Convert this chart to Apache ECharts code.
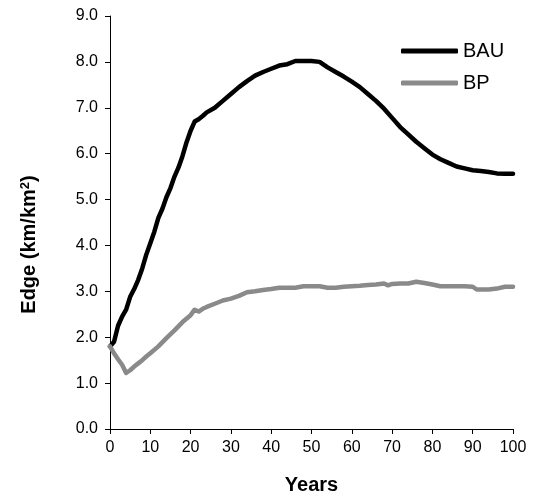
<!DOCTYPE html>
<html>
<head>
<meta charset="utf-8">
<script src="https://cdn.jsdelivr.net/npm/echarts@6/dist/echarts.min.js"></script>
<style>
  html, body { margin: 0; padding: 0; background: #fff; }
  #chart { width: 534px; height: 497px; }
</style>
</head>
<body>
<div id="chart"></div>
<script>
// values
const bauYears = [0, 1, 2, 3, 4, 5, 6, 7, 8, 9, 10, 11, 12, 13, 14, 15, 16, 17, 18, 19, 20, 21, 22, 23, 24, 26, 28, 30, 32, 34, 36, 38, 40, 42, 44, 46, 48, 50, 52, 54, 56, 58, 60, 62, 64, 66, 68, 70, 72, 74, 76, 78, 80, 82, 84, 86, 88, 90, 92, 94, 96, 98, 100];
const bauEdge = [1.80, 1.90, 2.25, 2.45, 2.60, 2.88, 3.05, 3.25, 3.50, 3.80, 4.05, 4.30, 4.60, 4.80, 5.05, 5.25, 5.50, 5.70, 5.95, 6.25, 6.50, 6.70, 6.75, 6.82, 6.90, 7.00, 7.15, 7.30, 7.45, 7.58, 7.70, 7.78, 7.85, 7.92, 7.95, 8.02, 8.02, 8.02, 8.00, 7.88, 7.78, 7.68, 7.57, 7.45, 7.30, 7.15, 6.98, 6.78, 6.58, 6.42, 6.26, 6.12, 5.98, 5.88, 5.80, 5.72, 5.68, 5.64, 5.62, 5.60, 5.57, 5.56, 5.56];

const bpYears = [0, 1, 2, 3, 4, 5, 6, 7, 8, 9, 10, 12, 14, 16, 18, 20, 21, 22, 23, 24, 26, 28, 30, 32, 34, 36, 38, 40, 42, 44, 46, 48, 50, 52, 54, 56, 58, 60, 62, 64, 66, 68, 69, 70, 72, 74, 76, 78, 80, 82, 84, 86, 88, 90, 91, 94, 96, 98, 100];
const bpEdge = [1.80, 1.65, 1.52, 1.40, 1.22, 1.28, 1.36, 1.43, 1.50, 1.58, 1.65, 1.80, 1.98, 2.15, 2.33, 2.48, 2.60, 2.56, 2.62, 2.66, 2.73, 2.80, 2.84, 2.90, 2.98, 3.00, 3.03, 3.05, 3.08, 3.08, 3.08, 3.11, 3.11, 3.11, 3.08, 3.08, 3.10, 3.11, 3.12, 3.14, 3.15, 3.17, 3.13, 3.16, 3.17, 3.17, 3.21, 3.18, 3.15, 3.11, 3.11, 3.11, 3.11, 3.10, 3.04, 3.04, 3.06, 3.10, 3.10];

const seriesNames = ['BAU', 'BP'];
const xTicks = [0, 10, 20, 30, 40, 50, 60, 70, 80, 90, 100];

function pairs(xs, ys) {
  return xs.map(function (x, i) { return [x, ys[i]]; });
}

const chart = echarts.init(document.getElementById('chart'));
const font = 'Liberation Sans, Arial, sans-serif';

const option = {
  backgroundColor: '#fff',
  animation: false,
  grid: { left: 110, right: 21, top: 16, bottom: 68, outerBoundsMode: 'none' },
  legend: {
    data: seriesNames,
    orient: 'vertical',
    left: 396,
    top: 36,
    itemWidth: 57,
    itemHeight: 5,
    itemGap: 12,
    icon: 'roundRect',
    textStyle: { fontFamily: font, fontSize: 20, color: '#000' }
  },
  xAxis: {
    type: 'value',
    min: 0,
    max: 100,
    interval: 10,
    name: 'Years',
    nameLocation: 'middle',
    nameGap: 46,
    nameTextStyle: { fontFamily: font, fontSize: 20, fontWeight: 'bold', color: '#000' },
    axisLine: { lineStyle: { color: '#000', width: 1 } },
    axisTick: { show: true, length: 5, lineStyle: { color: '#000' } },
    axisLabel: {
      fontFamily: font, fontSize: 16, color: '#000', margin: 11,
      formatter: function (v) { return xTicks.indexOf(v) >= 0 ? String(v) : ''; }
    },
    splitLine: { show: false }
  },
  yAxis: {
    type: 'value',
    min: 0,
    max: 9,
    interval: 1,
    name: 'Edge (km/km{sup|2})',
    nameLocation: 'middle',
    nameGap: 70,
    nameTextStyle: {
      fontFamily: font, fontSize: 20, fontWeight: 'bold', color: '#000',
      padding: [0, 44, 0, 0],
      rich: {
        sup: { fontFamily: font, fontSize: 13, fontWeight: 'bold', color: '#000', verticalAlign: 'top', padding: [0, 0, 8, 0] }
      }
    },
    axisLine: { show: true, lineStyle: { color: '#000', width: 1 } },
    axisTick: { show: true, length: 5, lineStyle: { color: '#000' } },
    axisLabel: {
      fontFamily: font, fontSize: 16, color: '#000', margin: 12,
      formatter: function (v) { return v.toFixed(1); }
    },
    splitLine: { show: false }
  },
  series: [
    {
      name: 'BAU',
      type: 'line',
      data: pairs(bauYears, bauEdge),
      symbol: 'none',
      color: '#000',
      lineStyle: { color: '#000', width: 4.5, cap: 'round', join: 'round' },
      z: 2
    },
    {
      name: 'BP',
      type: 'line',
      data: pairs(bpYears, bpEdge),
      symbol: 'none',
      color: '#8a8a8a',
      lineStyle: { color: '#8a8a8a', width: 4.5, cap: 'round', join: 'round' },
      z: 3
    }
  ]
};

chart.setOption(option);
</script>
</body>
</html>
